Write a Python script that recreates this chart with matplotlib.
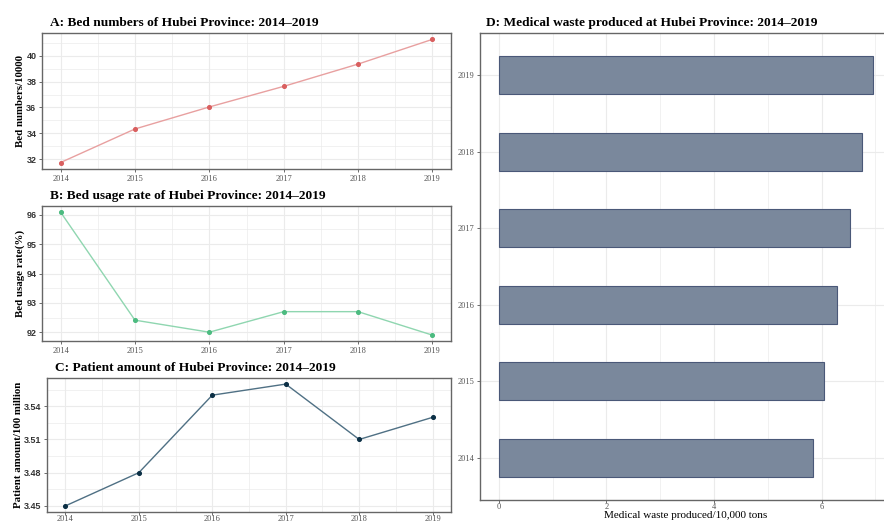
import numpy as np
import matplotlib
matplotlib.use("Agg")
import matplotlib.pyplot as plt
from matplotlib.ticker import MultipleLocator

years = [2014, 2015, 2016, 2017, 2018, 2019]
bed_numbers = [31.75, 34.34, 36.04, 37.63, 39.35, 41.26]
bed_usage = [96.09, 92.41, 92.0, 92.7, 92.7, 91.9]
patients = [3.45, 3.48, 3.55, 3.56, 3.51, 3.53]
waste = [5.85, 6.04, 6.28, 6.52, 6.75, 6.96]

W, H = 884, 523
SERIF = ["Liberation Serif", "DejaVu Serif"]
SANS = ["Liberation Sans", "DejaVu Sans"]
GRID = "#ebebeb"


def box(x0, y0, x1, y1):
    # pixel box (top-left origin) -> figure fraction
    return [x0 / W, 1 - y1 / H, (x1 - x0) / W, (y1 - y0) / H]


def style(ax):
    for s in ax.spines.values():
        s.set_color("#666666")
        s.set_linewidth(1.0)
    ax.grid(True, which="major", color=GRID, lw=0.8)
    ax.grid(True, which="minor", color=GRID, lw=0.5)
    ax.set_axisbelow(True)
    ax.tick_params(which="major", length=2.5, width=0.6, color="#555555", pad=1.5)
    ax.tick_params(which="minor", length=0)
    for t in ax.get_xticklabels():
        t.set_fontfamily(SERIF)
        t.set_fontsize(6)
        t.set_color("#555555")


def line_panel(ax, vals, lc, pc, ylabel, title, step, ylim):
    ax.plot(years, vals, color=lc, lw=1.0, zorder=2)
    ax.scatter(years, vals, color=pc, s=7, zorder=3)
    ax.set_xlim(2013.75, 2019.25)
    ax.set_ylim(*ylim)
    ax.set_xticks(years)
    ax.xaxis.set_minor_locator(MultipleLocator(0.5))
    ax.yaxis.set_major_locator(MultipleLocator(step))
    ax.yaxis.set_minor_locator(MultipleLocator(step / 2))
    style(ax)
    for t in ax.get_yticklabels():
        t.set_fontfamily(SANS)
        t.set_fontsize(6.5)
        t.set_fontweight("bold")
        t.set_color("#333333")
    ax.set_ylabel(ylabel, family=SERIF, fontsize=7.8, fontweight="bold", labelpad=1)
    ax.set_title(title, family=SERIF, fontsize=9.6, fontweight="bold", loc="left",
                 x=0.02, pad=5)


fig = plt.figure(figsize=(W / 100, H / 100), dpi=100)

axA = fig.add_axes(box(42, 33, 451, 169))
line_panel(axA, bed_numbers, "#e8a0a0", "#d95f5f", "Bed numbers/10000",
           "A: Bed numbers of Hubei Province: 2014\u20132019", 2, (31.25, 41.75))

axB = fig.add_axes(box(42, 206, 451, 341))
line_panel(axB, bed_usage, "#8fd6b0", "#4cbb80", "Bed usage rate(%)",
           "B: Bed usage rate of Hubei Province: 2014\u20132019", 1, (91.7, 96.3))

axC = fig.add_axes(box(47, 378, 451, 512))
line_panel(axC, patients, "#4f7084", "#0b2f45", "Patient amount/100 million",
           "C: Patient amount of Hubei Province: 2014\u20132019", 0.03, (3.4445, 3.5655))
axC.tick_params(axis="x", which="major", length=2, pad=0.5)

# horizontal bars, D
axD = fig.add_axes(box(480, 33, 892, 500))
axD.barh(years, waste, height=0.5, color="#7a889c", edgecolor="#4a5878", lw=0.8, zorder=2)
axD.set_xlim(-0.35, 7.31)
axD.set_ylim(2013.45, 2019.55)
axD.set_yticks(years)
axD.set_xticks([0, 2, 4, 6])
axD.xaxis.set_minor_locator(MultipleLocator(1))
style(axD)
axD.tick_params(axis="x", which="major", length=2, pad=0.5)
for t in axD.get_yticklabels():
    t.set_fontfamily(SERIF)
    t.set_fontsize(6)
    t.set_color("#555555")
axD.yaxis.grid(True, which="minor", color="white")
axD.set_xlabel("Medical waste produced/10,000 tons", family=SERIF, fontsize=8,
               labelpad=0)
axD.set_title("D: Medical waste produced at Hubei Province: 2014\u20132019",
              family=SERIF, fontsize=9.6, fontweight="bold", loc="left", x=0.015, pad=5)

fig.savefig("out.png", dpi=100, facecolor="white")
